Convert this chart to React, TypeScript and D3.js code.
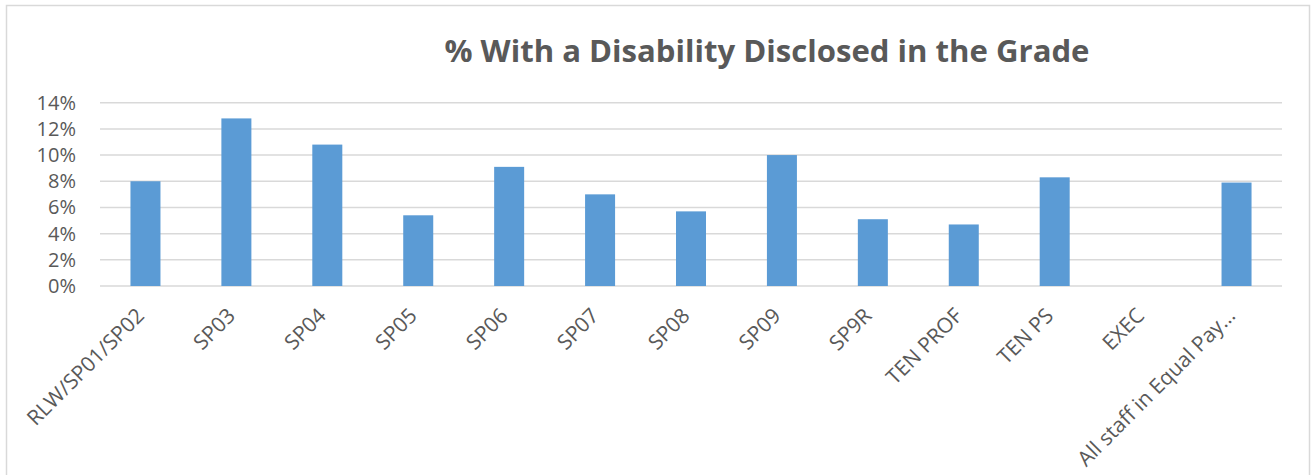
import { useRef, useEffect } from "react";
import * as d3 from "d3";

const categories = [
  "RLW/SP01/SP02",
  "SP03",
  "SP04",
  "SP05",
  "SP06",
  "SP07",
  "SP08",
  "SP09",
  "SP9R",
  "TEN PROF",
  "TEN PS",
  "EXEC",
  "All staff in Equal Pay…",
];
const values = [0.08, 0.128, 0.108, 0.054, 0.091, 0.07, 0.057, 0.1, 0.051, 0.047, 0.083, 0, 0.079];
const yTicks = [0, 0.02, 0.04, 0.06, 0.08, 0.1, 0.12, 0.14];

const TITLE = "% With a Disability Disclosed in the Grade";
const FONT = "'Open Sans', 'DejaVu Sans', sans-serif";
const TEXT = "#595959";
const GRID = "#d9d9d9";
const BAR = "#5b9bd5";

export default function App() {
  const svgRef = useRef<SVGSVGElement>(null);

  useEffect(() => {
    if (!svgRef.current) return;
    const svg = d3.select(svgRef.current);
    svg.selectAll("*").remove();

    const width = 1311;
    const height = 475;
    const plot = { left: 100, right: 1282, top: 102.7, bottom: 286 };

    // chart frame
    svg
      .append("rect")
      .attr("x", 6.5)
      .attr("y", 5.5)
      .attr("width", width - 8)
      .attr("height", height + 10)
      .attr("fill", "#fff")
      .attr("stroke", GRID)
      .attr("stroke-width", 1.5);

    const x = d3
      .scaleBand<string>()
      .domain(categories)
      .range([plot.left, plot.right])
      .paddingInner(0.67)
      .paddingOuter(0.335);
    const y = d3.scaleLinear().domain([0, 0.14]).range([plot.bottom, plot.top]);

    // Title
    svg
      .append("text")
      .attr("x", 767)
      .attr("y", 62)
      .attr("text-anchor", "middle")
      .attr("font-family", FONT)
      .attr("font-weight", "bold")
      .attr("font-size", 30)
      .attr("fill", TEXT)
      .attr("textLength", 645)
      .attr("lengthAdjust", "spacingAndGlyphs")
      .text(TITLE);

    // Gridlines
    svg
      .append("g")
      .selectAll("line")
      .data(yTicks)
      .enter()
      .append("line")
      .attr("x1", plot.left)
      .attr("x2", plot.right)
      .attr("y1", (d) => y(d))
      .attr("y2", (d) => y(d))
      .attr("stroke", GRID)
      .attr("stroke-width", 1.5);

    // Y tick labels
    svg
      .append("g")
      .selectAll("text")
      .data(yTicks)
      .enter()
      .append("text")
      .attr("x", 76)
      .attr("y", (d) => y(d))
      .attr("dy", "0.35em")
      .attr("text-anchor", "end")
      .attr("font-family", FONT)
      .attr("font-size", 20)
      .attr("fill", TEXT)
      .text((d) => d3.format(".0%")(d));

    // Bars
    svg
      .append("g")
      .selectAll("rect")
      .data(values)
      .enter()
      .append("rect")
      .attr("x", (_, i) => x(categories[i])!)
      .attr("y", (d) => y(d))
      .attr("width", x.bandwidth())
      .attr("height", (d) => plot.bottom - y(d))
      .attr("fill", BAR);

    // X labels
    svg
      .append("g")
      .selectAll("text")
      .data(categories)
      .enter()
      .append("text")
      .attr(
        "transform",
        (d) => `translate(${x(d)! + x.bandwidth() / 2},${plot.bottom + 31}) rotate(-45)`
      )
      .attr("text-anchor", "end")
      .attr("font-family", FONT)
      .attr("font-size", 21)
      .attr("fill", TEXT)
      .text((d) => d);
  }, []);

  return (
    <svg
      ref={svgRef}
      width={1311}
      height={475}
      style={{ position: "absolute", left: 0, top: 0, background: "#fff" }}
    />
  );
}
